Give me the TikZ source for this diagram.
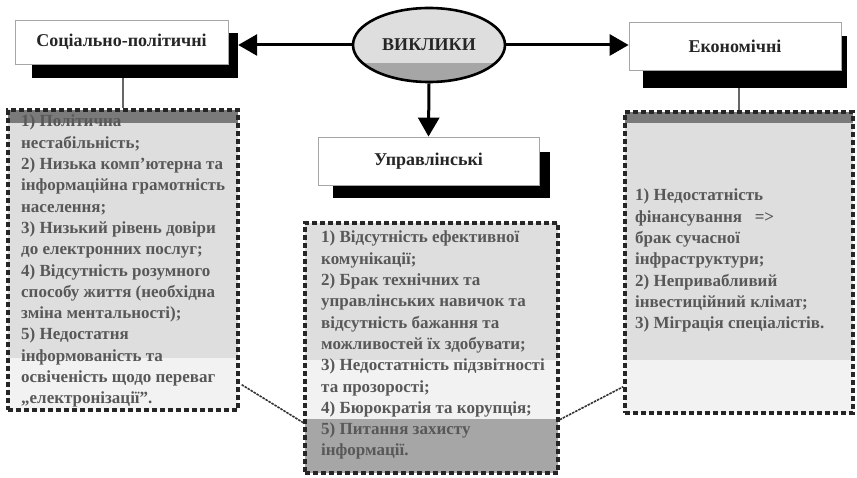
\documentclass[tikz,border=0pt]{standalone}
\usepackage{fontspec}
\setmainfont{Liberation Serif}
\usetikzlibrary{arrows.meta,shapes.geometric,calc}
\definecolor{txtgray}{HTML}{585858}
\definecolor{lightbg}{HTML}{DEDEDE}
\definecolor{paler}{HTML}{F2F2F2}
\definecolor{darkstrip}{HTML}{7A7A7A}
\definecolor{midgray}{HTML}{A6A6A6}
\begin{document}
\begin{tikzpicture}[x=1pt,y=-1pt,
  hdrbox/.style={draw=gray!70, fill=white, line width=0.8pt, minimum width=#1, inner sep=0pt,
     font=\bfseries\fontsize{18}{20}\selectfont, text=black!85},
  shadowbox/.style={fill=black, inner sep=0pt},
  contentbox/.style={draw=black!85, line width=3.4pt, dash pattern=on 5pt off 3pt, inner sep=0pt},
  ctext/.style={anchor=north west, inner sep=0pt, align=left, text=txtgray,
     font=\bfseries\fontsize{17}{21.3}\selectfont},
  arr/.style={line width=3pt, -{Triangle[length=19pt,width=21pt]}},
  conn/.style={draw=black!60, line width=1.2pt},
  dconn/.style={draw=black!80, line width=1.6pt, dash pattern=on 2.5pt off 1pt}
]
\useasboundingbox (0,0) rectangle (857,478);

% ---- header shadows
\node[shadowbox, minimum width=206pt, minimum height=45pt] (lsh) at (135,55.5) {};
\node[shadowbox, minimum width=217pt, minimum height=46pt] (msh) at (441.5,175) {};
\node[shadowbox, minimum width=204pt, minimum height=52pt] (rsh) at (745,62) {};

% ---- header boxes
\node[hdrbox=213pt, minimum height=44pt] (lhdr) at (121.5,42) {Соціально-політичні};
\node[hdrbox=221pt, minimum height=48pt] (mhdr) at (428.5,161) {Управлінські};
\node[hdrbox=212pt, minimum height=48pt] (rhdr) at (735,46) {Економічні};

% ---- ellipse
\node[ellipse, draw=black, line width=2.6pt, fill=lightbg, minimum width=152pt, minimum height=74pt,
  inner sep=0pt, font=\bfseries\fontsize{18}{20}\selectfont, text=black!85,
  path picture={\fill[midgray] ($(path picture bounding box.west)+(0,18)$) rectangle (path picture bounding box.south east);}]
  (ell) at (429,45) {ВИКЛИКИ};

% ---- content box fills
\fill[darkstrip] (8,110) rectangle (238,123);
\fill[lightbg] (8,123) rectangle (238,358);
\fill[paler] (8,358) rectangle (238,410);

\fill[lightbg] (305,223) rectangle (558,360);
\fill[paler] (305,360) rectangle (558,419);
\fill[midgray] (305,419) rectangle (558,473);

\fill[darkstrip] (625,112) rectangle (853,123);
\fill[lightbg] (625,123) rectangle (853,360);
\fill[paler] (625,360) rectangle (853,413);

% ---- content texts
\node[ctext] (ltext) at (21,115) {1) Політична\\нестабільність;\\2) Низька комп’ютерна та\\інформаційна грамотність\\населення;\\3) Низький рівень довіри\\до електронних послуг;\\4) Відсутність розумного\\способу життя (необхідна\\зміна ментальності);\\5) Недостатня\\інформованість та\\освіченість щодо переваг\\„електронізації”.};
\node[ctext] (mtext) at (321,231) {1) Відсутність ефективної\\комунікації;\\2) Брак технічних та\\управлінських навичок та\\відсутність бажання та\\можливостей їх здобувати;\\3) Недостатність підзвітності\\та прозорості;\\4) Бюрократія та корупція;\\5) Питання захисту\\інформації.};
\node[ctext] (rtext) at (635,189) {1) Недостатність\\фінансування ~ =>\\брак сучасної\\інфраструктури;\\2) Непривабливий\\інвестиційний клімат;\\3) Міграція спеціалістів.};

% ---- content box borders
\node[contentbox, minimum width=230pt, minimum height=300pt] (lbox) at (123,260) {};
\node[contentbox, minimum width=253pt, minimum height=250pt] (mbox) at (431.5,348) {};
\node[contentbox, minimum width=228pt, minimum height=301pt] (rbox) at (739,262.5) {};

% ---- connectors
\draw[conn] (lbox.north |- lsh.south) -- (lbox.north);
\draw[conn] (rbox.north |- rsh.south) -- (rbox.north);
\draw[dconn] ($(lbox.south east)+(2,-27)$) -- ($(mbox.south west)+(0,-52)$);
\draw[dconn] ($(mbox.south east)+(0,-55)$) -- ($(rbox.south west)+(0,-28)$);

% ---- arrows
\draw[arr] (ell.west) -- (ell.west -| lsh.east);
\draw[arr] (ell.east) -- (ell.east -| rhdr.west);
\draw[arr] (ell.south) -- (mhdr.north);
\end{tikzpicture}
\end{document}
